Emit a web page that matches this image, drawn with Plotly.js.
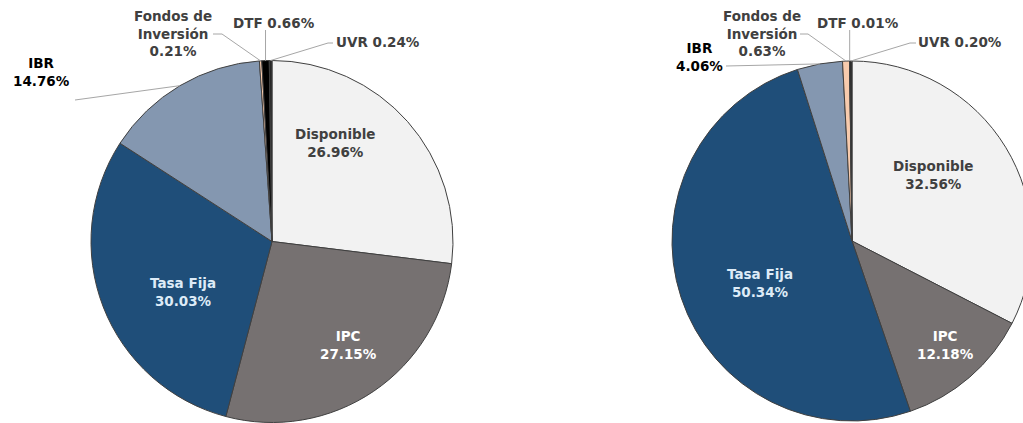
<!DOCTYPE html>
<html>
<head>
<meta charset="utf-8">
<script src="https://cdn.plot.ly/plotly-3.0.1.min.js"></script>
<style>
html,body{margin:0;padding:0;overflow:hidden;background:#fff;width:1023px;height:423px;}
#chart{width:1040px;height:423px;}
</style>
</head>
<body>
<div id="chart"></div>
<script>
// ---- data ----
const categories = ["Disponible", "IPC", "Tasa Fija", "IBR", "Fondos de Inversión", "DTF", "UVR"];
const labelText = ["Disponible", "IPC", "Tasa Fija", "IBR", "Fondos de<br>Inversión", "DTF", "UVR"];
const valuesLeft = [26.96, 27.15, 30.03, 14.76, 0.21, 0.66, 0.24];
const valuesRight = [32.56, 12.18, 50.34, 4.06, 0.63, 0.01, 0.20];
const sliceColors = ["#f2f2f2", "#767171", "#1f4e79", "#8497b0", "#f8cbad", "#000000", "#262626"];

// ---- layout geometry (pixels) ----
const W = 1040, H = 423;
const pies = [
  {cx: 272, cy: 241.5, r: 181, values: valuesLeft,
   labels: [
     {x: 335, y: 143, inline: false, color: "#404040"},
     {x: 348, y: 345, inline: false, color: "#ffffff"},
     {x: 183, y: 292, inline: false, color: "#ddebf7"},
     {x: 41, y: 72, inline: false, color: "#000000", bend: [75, 100]},
     {x: 173, y: 33, inline: false, color: "#404040", three: true, bend: [213, 34], bend2: [222, 34]},
     {x: 274, y: 23, inline: true, color: "#404040", bend: null, vert: 30},
     {x: 378, y: 42, inline: true, color: "#404040", bend: [333, 43], bend2: [328, 43]}
   ]},
  {cx: 852, cy: 241, r: 180, values: valuesRight,
   labels: [
     {x: 933, y: 175, inline: false, color: "#404040"},
     {x: 945, y: 345, inline: false, color: "#ffffff"},
     {x: 760, y: 283, inline: false, color: "#ddebf7"},
     {x: 699, y: 57, inline: false, color: "#000000", bend: [726, 66]},
     {x: 762, y: 33, inline: false, color: "#404040", three: true, bend: [800, 34], bend2: [808, 34]},
     {x: 858, y: 23, inline: true, color: "#404040", bend: null, vert: 30},
     {x: 960, y: 42, inline: true, color: "#404040", bend: [916, 43], bend2: [910, 43]}
   ]}
];

const px = x => x / W;
const py = y => 1 - y / H;

const traces = [];
const annotations = [];
const shapes = [];

pies.forEach(p => {
  traces.push({
    type: "pie",
    values: p.values,
    labels: categories,
    sort: false,
    direction: "clockwise",
    rotation: 0,
    textinfo: "none",
    hoverinfo: "label+percent",
    marker: {colors: sliceColors, line: {color: "#404040", width: 1}},
    domain: {x: [px(p.cx - p.r), px(p.cx + p.r)], y: [py(p.cy + p.r), py(p.cy - p.r)]},
    showlegend: false
  });
  const total = p.values.reduce((a, b) => a + b, 0);
  let cum = 0;
  p.values.forEach((v, i) => {
    const mid = (cum + v / 2) / total * 2 * Math.PI;
    cum += v;
    const L = p.labels[i];
    const pct = v.toFixed(2) + "%";
    const txt = L.inline ? labelText[i] + " " + pct : labelText[i] + "<br>" + pct;
    annotations.push({
      xref: "paper", yref: "paper", x: px(L.x), y: py(L.y),
      xanchor: "center", yanchor: "middle", showarrow: false,
      text: "<b>" + txt + "</b>",
      font: {family: "DejaVu Sans, Verdana, sans-serif", size: 13.5, color: L.color},
      align: "center"
    });
    // leader lines for small slices
    if (i >= 3) {
      const ex = p.cx + p.r * Math.sin(mid);
      const ey = p.cy - p.r * Math.cos(mid);
      let path;
      if (L.vert !== undefined) {
        path = `M${px(ex)},${py(ey)} L${px(ex)},${py(L.vert)}`;
      } else if (L.bend2) {
        path = `M${px(ex)},${py(ey)} L${px(L.bend2[0])},${py(L.bend2[1])} L${px(L.bend[0])},${py(L.bend[1])}`;
      } else {
        path = `M${px(ex)},${py(ey)} L${px(L.bend[0])},${py(L.bend[1])}`;
      }
      shapes.push({type: "path", xref: "paper", yref: "paper", path: path,
        line: {color: "#a6a6a6", width: 1}, layer: "above"});
    }
  });
});

const layout = {
  width: W, height: H,
  margin: {l: 0, r: 0, t: 0, b: 0},
  paper_bgcolor: "#ffffff",
  plot_bgcolor: "#ffffff",
  showlegend: false,
  annotations: annotations,
  shapes: shapes
};

Plotly.newPlot("chart", traces, layout, {displayModeBar: false, staticPlot: true});
</script>
</body>
</html>
